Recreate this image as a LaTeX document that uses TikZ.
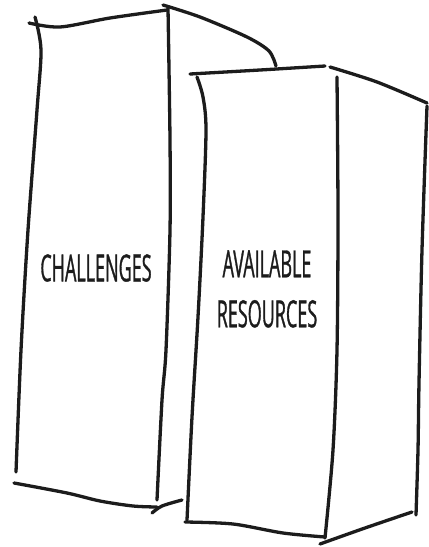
\documentclass[tikz,border=0pt]{standalone}
\usepackage{fontspec}
\usepackage{tikz}
\usetikzlibrary{calc}
\newfontfamily\rotfont[FakeStretch=0.48,FakeBold=0.8]{Open Sans}
\definecolor{tinta}{HTML}{1C1C1C}
\tikzset{
  trazo/.style={draw=tinta,line width=3.3pt,line cap=round,line join=round},
  rotulo/.style={font=\rotfont\fontsize{37.5}{50}\selectfont,text=tinta,align=center,inner sep=0pt},
}

\begin{document}
\begin{tikzpicture}[x=1pt,y=-1pt]
\useasboundingbox (0,0) rectangle (429,547);
% columna izquierda
\coordinate (i1) at (35,17);
\coordinate (i2) at (168,8);
\coordinate (i3) at (16,472);
\coordinate (i4) at (157,500);
\draw[trazo] plot[smooth] coordinates {(29,23) (60,27) (110,18) (167,10)};
\draw[trazo] plot[smooth] coordinates {(i1) (41,50) (37,110) (28,230) (21,350) (i3)};
\draw[trazo] plot[smooth] coordinates {(i2) (170,140) (170,230) (166,350) (162,400) (i4)};
\draw[trazo] plot[smooth] coordinates {(163,5) (200,17) (247,37) (269,51) (276,66)};
\draw[trazo] plot[smooth] coordinates {(14,483) (67,493) (100,501) (133,506) (157,507)};
\draw[trazo] plot[smooth] coordinates {(152,513) (162,506) (182,500)};
% columna derecha
\coordinate (d1) at (197,77);
\coordinate (d2) at (337,77);
\coordinate (d3) at (187,520);
\coordinate (d4) at (325,538);
\draw[trazo] plot[smooth] coordinates {(190,74) (260,70) (325,66)};
\draw[trazo] plot[smooth] coordinates {(330,67) (377,82) (427,103)};
\draw[trazo] plot[smooth] coordinates {(427,106) (422,250) (419,383) (418,450) (416,515)};
\draw[trazo] plot[smooth] coordinates {(d1) (203,97) (206,130) (203,217) (198,317) (192,417) (d3)};
\draw[trazo] plot[smooth] coordinates {(d2) (338,217) (337,350) (333,450) (d4)};
\draw[trazo] plot[smooth] coordinates {(185,522) (233,524) (283,533) (325,537)};
\draw[trazo] plot[smooth] coordinates {(320,544) (365,528) (412,512)};
% textos
\node[rotulo] (retos) at (96,268) {CHALLENGES};
\node[rotulo] (recursos) at (267,289) {AVAILABLE\\RESOURCES};
\end{tikzpicture}
\end{document}
